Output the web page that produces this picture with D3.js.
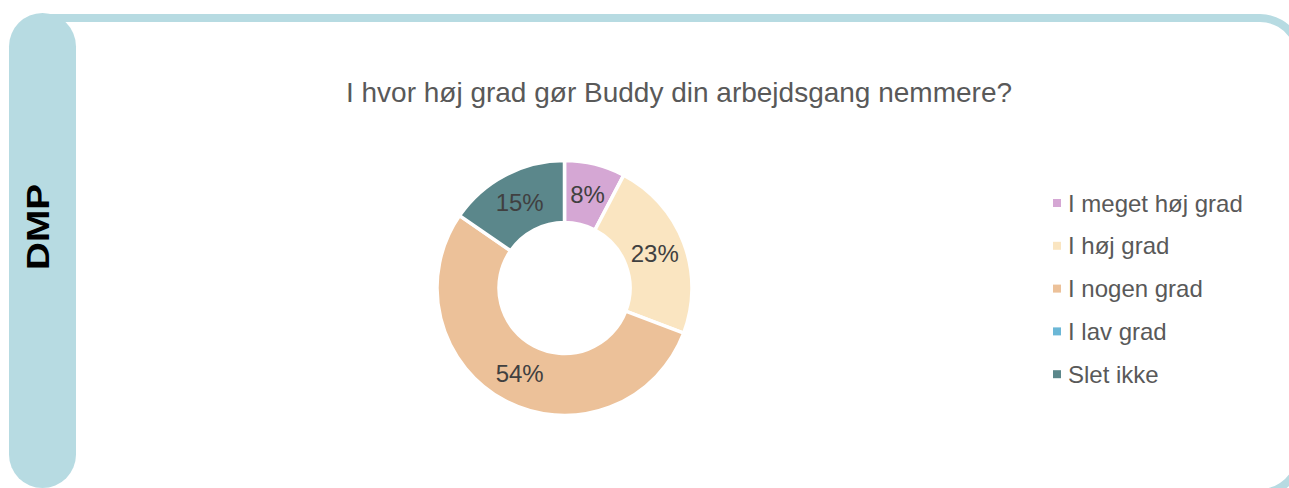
<!DOCTYPE html>
<html>
<head>
<meta charset="utf-8">
<script src="https://cdn.jsdelivr.net/npm/d3@7"></script>
<style>
  html, body { margin: 0; padding: 0; background: #fff; overflow: hidden; }
  svg { display: block; font-family: "Liberation Sans", Arial, sans-serif; }
</style>
</head>
<body>
<svg id="chart"></svg>
<script>
const title = 'I hvor høj grad gør Buddy din arbejdsgang nemmere?';
const sideLabel = 'DMP';
const categories = ['I meget høj grad', 'I høj grad', 'I nogen grad', 'I lav grad', 'Slet ikke'];
const counts = [1, 3, 7, 0, 2];
const colors = ['#d5a7d4', '#fae5c1', '#ecc199', '#6bb7d6', '#5b878b'];

const W = 1289, H = 488;
const frameColor = '#b7dbe2';

const svg = d3.select('#chart')
    .attr('width', W)
    .attr('height', H);

// frame: top edge with its right corner, and the bottom-right corner peeking in
const cornerR = 40;
const topEdge = d3.path();
topEdge.moveTo(40, 18);
topEdge.lineTo(1300 - cornerR, 18);
topEdge.arc(1300 - cornerR, 18 + cornerR, cornerR, -Math.PI / 2, -Math.PI / 6);
svg.append('path')
    .attr('d', topEdge.toString())
    .attr('fill', 'none')
    .attr('stroke', frameColor)
    .attr('stroke-width', 8);

const bottomCorner = d3.path();
bottomCorner.arc(1300 - cornerR, 493 - cornerR, cornerR, Math.PI / 8, Math.PI / 2);
svg.append('path')
    .attr('d', bottomCorner.toString())
    .attr('fill', 'none')
    .attr('stroke', frameColor)
    .attr('stroke-width', 8);

svg.append('rect')
    .attr('x', 9).attr('y', 13)
    .attr('width', 67).attr('height', 475)
    .attr('rx', 33.5).attr('ry', 33.5)
    .attr('fill', frameColor);

svg.append('text')
    .attr('transform', 'translate(49,227) rotate(-90)')
    .attr('text-anchor', 'middle')
    .attr('font-size', 31)
    .attr('font-weight', 'bold')
    .attr('textLength', 86)
    .attr('lengthAdjust', 'spacingAndGlyphs')
    .attr('fill', '#000')
    .text(sideLabel);

// title
svg.append('text')
    .attr('x', 679).attr('y', 102)
    .attr('text-anchor', 'middle')
    .attr('font-size', 28)
    .attr('fill', '#595959')
    .text(title);

// donut
const total = d3.sum(counts);
const data = categories.map((c, i) => ({name: c, value: counts[i], color: colors[i]}));

const pie = d3.pie()
    .sort(null)
    .value(d => d.value);

const arc = d3.arc()
    .innerRadius(65.5)
    .outerRadius(127.5);

const g = svg.append('g')
    .attr('transform', 'translate(564.5,288)');

const arcs = pie(data).filter(d => d.data.value > 0);

g.selectAll('path')
    .data(arcs)
    .enter().append('path')
      .attr('d', arc)
      .attr('fill', d => d.data.color)
      .attr('stroke', '#fff')
      .attr('stroke-width', 3.5);

const pct = d3.format('.0%');
g.selectAll('text')
    .data(arcs)
    .enter().append('text')
      .attr('transform', d => 'translate(' + arc.centroid(d) + ')')
      .attr('text-anchor', 'middle')
      .attr('dy', '0.36em')
      .attr('font-size', 24)
      .attr('fill', '#404040')
      .text(d => pct(d.data.value / total));

// legend
const legend = svg.append('g')
    .attr('font-size', 24)
    .attr('fill', '#595959')
  .selectAll('g')
  .data(data)
  .enter().append('g')
    .attr('transform', (d, i) => 'translate(1053,' + (203 + i * 42.8) + ')');

legend.append('rect')
    .attr('x', 0).attr('y', -4)
    .attr('width', 8).attr('height', 8)
    .attr('fill', d => d.color);

legend.append('text')
    .attr('x', 15)
    .attr('dy', '0.36em')
    .text(d => d.name);
</script>
</body>
</html>
